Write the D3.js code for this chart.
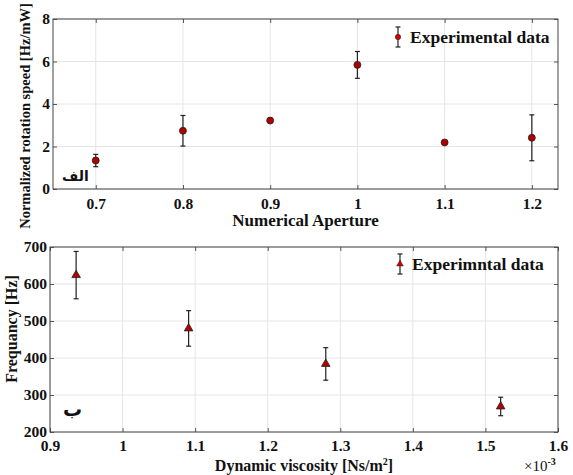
<!DOCTYPE html>
<html>
<head>
<meta charset="utf-8">
<script src="https://cdn.jsdelivr.net/npm/d3@7"></script>
<style>
body { margin: 0; background: #fff; }
text { font-family: "Liberation Serif", "DejaVu Serif", serif; font-weight: bold; }
</style>
</head>
<body>
<svg id="chart" width="573" height="475"></svg>
<script>
// top panel (alef): normalized rotation speed vs numerical aperture
var na_x = [0.7, 0.8, 0.9, 1.0, 1.1, 1.2];
var na_y = [1.34, 2.74, 3.22, 5.84, 2.19, 2.41];
var na_err = [0.29, 0.72, 0.05, 0.63, 0.05, 1.08];
var na_ticks_x = [0.7, 0.8, 0.9, 1, 1.1, 1.2];
var na_ticks_y = [0, 2, 4, 6, 8];

// bottom panel (be): frequency vs dynamic viscosity (x1e-3)
var visc_x = [0.936, 1.091, 1.28, 1.521];
var visc_y = [624, 480, 384, 269];
var visc_err = [64, 48, 44, 25];
var visc_ticks_x = [0.9, 1, 1.1, 1.2, 1.3, 1.4, 1.5, 1.6];
var visc_ticks_y = [200, 300, 400, 500, 600, 700];

var svg = d3.select('#chart');
var red = '#b00000';

function panel(opt) {
    var g = svg.append('g');
    var x = d3.scaleLinear().domain(opt.xdom).range([opt.left, opt.right]);
    var y = d3.scaleLinear().domain(opt.ydom).range([opt.bottom, opt.top]);

    // grid
    g.selectAll('.gx').data(opt.xticks).enter().append('line')
        .attr('x1', d => x(d)).attr('x2', d => x(d))
        .attr('y1', opt.top).attr('y2', opt.bottom)
        .attr('stroke', '#e6e6e6').attr('stroke-width', 1);
    g.selectAll('.gy').data(opt.yticks).enter().append('line')
        .attr('y1', d => y(d)).attr('y2', d => y(d))
        .attr('x1', opt.left).attr('x2', opt.right)
        .attr('stroke', '#e6e6e6').attr('stroke-width', 1);

    // axes with inward ticks
    var ax = d3.axisBottom(x).tickValues(opt.xticks).tickSizeInner(-4).tickSizeOuter(0)
        .tickPadding(opt.xpad).tickFormat(d3.format(''));
    var ay = d3.axisLeft(y).tickValues(opt.yticks).tickSizeInner(-4).tickSizeOuter(0)
        .tickPadding(3).tickFormat(d3.format(''));
    g.append('g').attr('transform', 'translate(0,' + opt.bottom + ')').call(ax);
    g.append('g').attr('transform', 'translate(' + opt.left + ',0)').call(ay);
    var axt = d3.axisTop(x).tickValues(opt.xticks).tickSizeInner(-4).tickSizeOuter(0).tickFormat('');
    var ayr = d3.axisRight(y).tickValues(opt.yticks).tickSizeInner(-4).tickSizeOuter(0).tickFormat('');
    g.append('g').attr('transform', 'translate(0,' + opt.top + ')').call(axt);
    g.append('g').attr('transform', 'translate(' + opt.right + ',0)').call(ayr);
    g.selectAll('.domain').remove();
    g.selectAll('.tick line').attr('stroke', '#555');
    g.selectAll('.tick text').attr('font-size', 15.5).attr('fill', '#111')
        .style('font-family', '"Liberation Serif", serif').style('font-weight', 'bold');

    g.append('rect').attr('x', opt.left).attr('y', opt.top)
        .attr('width', opt.right - opt.left).attr('height', opt.bottom - opt.top)
        .attr('fill', 'none').attr('stroke', '#444').attr('stroke-width', 1);

    // error bars
    var pts = opt.xs.map((v, i) => ({x: v, y: opt.ys[i], e: opt.es[i]}));
    var eb = g.selectAll('.eb').data(pts).enter().append('g');
    eb.append('line').attr('x1', d => x(d.x)).attr('x2', d => x(d.x))
        .attr('y1', d => y(d.y - d.e)).attr('y2', d => y(d.y + d.e))
        .attr('stroke', '#222').attr('stroke-width', 1.2);
    eb.append('line').attr('x1', d => x(d.x) - 2.5).attr('x2', d => x(d.x) + 2.5)
        .attr('y1', d => y(d.y - d.e)).attr('y2', d => y(d.y - d.e))
        .attr('stroke', '#222').attr('stroke-width', 1.2);
    eb.append('line').attr('x1', d => x(d.x) - 2.5).attr('x2', d => x(d.x) + 2.5)
        .attr('y1', d => y(d.y + d.e)).attr('y2', d => y(d.y + d.e))
        .attr('stroke', '#222').attr('stroke-width', 1.2);

    var sym = d3.symbol().type(opt.marker).size(opt.msize);
    g.selectAll('.pt').data(pts).enter().append('path')
        .attr('d', sym)
        .attr('transform', d => 'translate(' + x(d.x) + ',' + y(d.y) + ')')
        .attr('fill', red).attr('stroke', '#222').attr('stroke-width', 0.8);

    // legend
    var lx = opt.legx, ly = opt.legy;
    g.append('line').attr('x1', lx).attr('x2', lx).attr('y1', ly - 10).attr('y2', ly + 10)
        .attr('stroke', '#222').attr('stroke-width', 1.2);
    g.append('line').attr('x1', lx - 2.5).attr('x2', lx + 2.5).attr('y1', ly - 10).attr('y2', ly - 10)
        .attr('stroke', '#222').attr('stroke-width', 1.2);
    g.append('line').attr('x1', lx - 2.5).attr('x2', lx + 2.5).attr('y1', ly + 10).attr('y2', ly + 10)
        .attr('stroke', '#222').attr('stroke-width', 1.2);
    g.append('path').attr('d', d3.symbol().type(opt.marker).size(opt.msize * 0.6))
        .attr('transform', 'translate(' + lx + ',' + ly + ')')
        .attr('fill', '#d00000').attr('stroke', '#222').attr('stroke-width', 0.5);
    g.append('text').attr('x', lx + 12).attr('y', ly + 6).attr('font-size', 17.5)
        .attr('fill', '#111').text(opt.legend);

    // axis labels
    g.append('text').attr('class', 'xlab').attr('x', (opt.left + opt.right) / 2).attr('y', opt.xlaby)
        .attr('text-anchor', 'middle').attr('font-size', opt.xlabsize).attr('fill', '#111')
        .text(opt.xlabel);
    g.append('text').attr('transform', 'translate(' + opt.ylabx + ',' + opt.ylabc + ') rotate(-90)')
        .attr('text-anchor', 'middle').attr('font-size', opt.ylabsize).attr('fill', '#111')
        .text(opt.ylabel);

    // panel letter
    g.append('text').attr('x', opt.tagx).attr('y', opt.tagy)
        .attr('font-size', opt.tagsize).attr('fill', '#111')
        .style('font-family', '"Noto Sans", "DejaVu Sans", sans-serif').style('font-weight', 'bold')
        .text(opt.tag);
    return {x: x, y: y, g: g};
}

panel({
    xdom: [0.651, 1.23], ydom: [0, 8],
    left: 53, right: 558, top: 19, bottom: 189,
    xticks: na_ticks_x, yticks: na_ticks_y, xpad: 9,
    xs: na_x, ys: na_y, es: na_err,
    marker: d3.symbolCircle, msize: 38,
    legx: 398, legy: 37, legend: 'Experimental data',
    xlabel: 'Numerical Aperture', xlaby: 226, xlabsize: 17,
    ylabel: 'Normalized rotation speed [Hz/mW]', ylabx: 30, ylabc: 116, ylabsize: 14.5,
    tag: 'الف', tagx: 62, tagy: 181, tagsize: 14
});

var bot = panel({
    xdom: [0.9, 1.6], ydom: [200, 700],
    left: 50, right: 558, top: 247, bottom: 432,
    xticks: visc_ticks_x, yticks: visc_ticks_y, xpad: 8,
    xs: visc_x, ys: visc_y, es: visc_err,
    marker: d3.symbolTriangle, msize: 32,
    legx: 400, legy: 264, legend: 'Experimntal data',
    xlabel: 'Dynamic viscosity [Ns/m', xlaby: 471, xlabsize: 16,
    ylabel: 'Frequancy [Hz]', ylabx: 17, ylabc: 329, ylabsize: 16,
    tag: 'ب', tagx: 63, tagy: 416, tagsize: 19
});

// superscript on x label and exponent note
var xl = bot.g.select('.xlab');
xl.append('tspan').attr('dy', -6).attr('font-size', 10).text('2');
xl.append('tspan').attr('dy', 6).text(']');

var ex = svg.append('text').attr('x', 524).attr('y', 471).attr('font-size', 15)
    .attr('fill', '#111').style('font-weight', 'normal');
ex.append('tspan').text('×10');
ex.append('tspan').attr('dy', -6).attr('font-size', 10).style('font-weight', 'bold').text('-3');
</script>
</body>
</html>
